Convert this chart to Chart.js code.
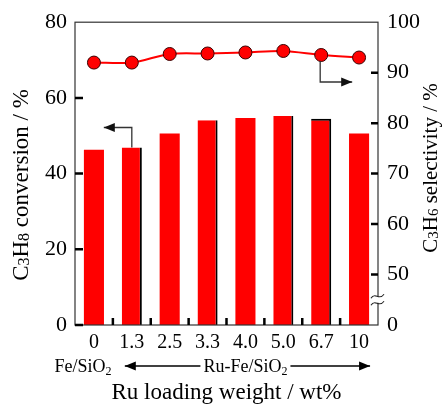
<!DOCTYPE html>
<html>
<head>
<meta charset="utf-8">
<script src="https://cdn.jsdelivr.net/npm/chart.js@4"></script>
<style>
  body { margin: 0; background: #fff; }
  #wrap { width: 444px; height: 405px; }
</style>
</head>
<body>
<div id="wrap"><canvas id="chart"></canvas></div>
<script>
// values
const loadings = ["0", "1.3", "2.5", "3.3", "4.0", "5.0", "6.7", "10"];
const conversion = [46.3, 46.9, 50.6, 54.1, 54.7, 55.2, 54.5, 50.6];
const selectivity = [92.0, 92.0, 93.7, 93.8, 94.0, 94.3, 93.5, 93.0];
const convTicks = [0, 20, 40, 60, 80];
const selTicks = [40, 50, 60, 70, 80, 90, 100];
const selTickLabels = ["0", "50", "60", "70", "80", "90", "100"];

const red = "#ff0000";
const ink = "#222";
const serif = "'Liberation Serif', 'Times New Roman', 'DejaVu Serif', serif";

// bars with a dark edge in the original scan
const darkEdge = { 1: { right: 2 }, 3: { right: 2 }, 5: { right: 2 }, 6: { right: 2, top: 2 } };

function arrow(ctx, pts) {
  ctx.beginPath();
  ctx.moveTo(pts[0][0], pts[0][1]);
  pts.slice(1).forEach(p => ctx.lineTo(p[0], p[1]));
  ctx.stroke();
  const [x1, y1] = pts[pts.length - 2];
  const [x2, y2] = pts[pts.length - 1];
  const ang = Math.atan2(y2 - y1, x2 - x1);
  ctx.save();
  ctx.translate(x2, y2);
  ctx.rotate(ang);
  ctx.beginPath();
  ctx.moveTo(0, 0);
  ctx.lineTo(-11, -4.5);
  ctx.lineTo(-11, 4.5);
  ctx.closePath();
  ctx.fill();
  ctx.restore();
}

// draws [text, isSub] runs centred on (cx, baseline); returns half width
function rich(ctx, parts, size, subSize, drop, cx, base) {
  const fonts = parts.map(p => (p[1] ? subSize : size) + "px " + serif);
  const widths = parts.map((p, i) => { ctx.font = fonts[i]; return ctx.measureText(p[0]).width; });
  const total = widths.reduce((s, w) => s + w, 0);
  let xx = cx - total / 2;
  ctx.textAlign = "left";
  ctx.textBaseline = "alphabetic";
  parts.forEach((p, i) => {
    ctx.font = fonts[i];
    ctx.fillText(p[0], xx, base + (p[1] ? drop : 0));
    xx += widths[i];
  });
  return total / 2;
}

const decor = {
  id: "decor",
  afterDatasetsDraw(chart) {
    const { ctx, chartArea: a, scales } = chart;
    const x = scales.x, y = scales.y, y2 = scales.y2;
    ctx.save();

    // frame
    ctx.strokeStyle = "#333";
    ctx.lineWidth = 1.2;
    ctx.strokeRect(a.left, a.top, a.right - a.left, a.bottom - a.top);

    // inward ticks
    ctx.strokeStyle = "#000";
    ctx.lineWidth = 2.5;
    ctx.beginPath();
    convTicks.slice(0, -1).forEach(v => {
      const py = y.getPixelForValue(v);
      ctx.moveTo(a.left, py); ctx.lineTo(a.left + 8, py);
    });
    selTicks.slice(1, -1).forEach(v => {
      const py = y2.getPixelForValue(v);
      ctx.moveTo(a.right, py); ctx.lineTo(a.right - 7, py);
    });
    for (let i = 0; i < loadings.length - 1; i++) {
      const px = (x.getPixelForValue(i) + x.getPixelForValue(i + 1)) / 2;
      ctx.moveTo(px, a.bottom); ctx.lineTo(px, a.bottom - 7);
    }
    ctx.stroke();

    // axis break on the right axis
    const by = y2.getPixelForValue(45);
    ctx.fillStyle = "#fff";
    ctx.fillRect(a.right - 2, by - 3, 4, 6);
    ctx.strokeStyle = ink;
    ctx.lineWidth = 1.2;
    [-3.5, 3.5].forEach(d => {
      const c = by + d;
      ctx.beginPath();
      ctx.moveTo(a.right - 7, c + 2);
      ctx.bezierCurveTo(a.right - 3, c - 5, a.right + 1, c + 5, a.right + 6, c - 2);
      ctx.stroke();
    });

    // pointer arrows
    ctx.strokeStyle = "#333";
    ctx.fillStyle = "#111";
    ctx.lineWidth = 1.3;
    const bx = x.getPixelForValue(1);
    const bt = y.getPixelForValue(conversion[1]);
    arrow(ctx, [[bx, bt], [bx, bt - 20], [bx - 28, bt - 20]]);
    const px = x.getPixelForValue(6) - 1;
    const pt = y2.getPixelForValue(selectivity[6]);
    arrow(ctx, [[px, pt + 6], [px, pt + 27], [px + 32, pt + 27]]);

    // catalyst labels under the ticks
    const rowY = a.bottom + 41;
    ctx.fillStyle = "#000";
    rich(ctx, [["Fe/SiO", 0], ["2", 1]], 18, 12, 3, x.getPixelForValue(0) - 11, rowY + 6);
    const mid = (x.getPixelForValue(1) + x.getPixelForValue(7)) / 2;
    const half = rich(ctx, [["Ru-Fe/SiO", 0], ["2", 1]], 18, 12, 3, mid, rowY + 6);
    ctx.strokeStyle = "#000";
    ctx.fillStyle = "#000";
    ctx.lineWidth = 1.3;
    arrow(ctx, [[mid - half - 3, rowY], [x.getPixelForValue(1) - 7, rowY]]);
    arrow(ctx, [[mid + half + 3, rowY], [x.getPixelForValue(7) + 11, rowY]]);

    // axis titles, both reading bottom to top
    ctx.save();
    ctx.translate(28, 185);
    ctx.rotate(-Math.PI / 2);
    rich(ctx, [["C", 0], ["3", 1], ["H", 0], ["8", 1], [" conversion / %", 0]], 23, 16, 1, 0, 0);
    ctx.restore();
    ctx.save();
    ctx.translate(437, 168);
    ctx.rotate(-Math.PI / 2);
    rich(ctx, [["C", 0], ["3", 1], ["H", 0], ["6", 1], [" selectivity / %", 0]], 21, 15, 1, 0, 0);
    ctx.restore();

    ctx.restore();
  }
};

function draw() {
  new Chart(document.getElementById("chart"), {
    data: {
      labels: loadings,
      datasets: [
        {
          type: "line",
          data: selectivity,
          yAxisID: "y2",
          borderColor: red,
          borderWidth: 2,
          tension: 0.3,
          pointRadius: 6.5,
          pointBackgroundColor: red,
          pointBorderColor: "#3a0000",
          pointBorderWidth: 1,
          order: 0
        },
        {
          type: "bar",
          data: conversion,
          yAxisID: "y",
          backgroundColor: red,
          borderColor: "#000",
          borderWidth: c => darkEdge[c.dataIndex] || 0,
          borderSkipped: false,
          barPercentage: 0.53,
          categoryPercentage: 1,
          order: 1
        }
      ]
    },
    options: {
      responsive: true,
      maintainAspectRatio: false,
      animation: false,
      layout: { padding: { top: 22, left: 0, right: 0, bottom: 0 } },
      plugins: { legend: { display: false }, tooltip: { enabled: false } },
      scales: {
        x: {
          type: "category",
          offset: true,
          grid: { display: false, drawTicks: false },
          border: { display: false },
          ticks: { color: "#000", font: { family: serif, size: 20 }, padding: 6, maxRotation: 0, autoSkip: false },
          title: { display: true, text: "Ru loading weight / wt%", color: "#000", font: { family: serif, size: 23 }, padding: { top: 0, bottom: -2 } },
          afterFit: s => { s.height = 80; }
        },
        y: {
          position: "left",
          min: 0,
          max: 80,
          afterBuildTicks: s => { s.ticks = convTicks.map(v => ({ value: v })); },
          grid: { display: false, drawTicks: false },
          border: { display: false },
          ticks: { color: "#000", font: { family: serif, size: 22 }, padding: 8 },
          afterFit: s => { s.width = 75; }
        },
        y2: {
          position: "right",
          min: 40,
          max: 100,
          afterBuildTicks: s => { s.ticks = selTicks.map(v => ({ value: v })); },
          grid: { display: false, drawTicks: false },
          border: { display: false },
          ticks: { color: "#000", font: { family: serif, size: 22 }, padding: 9, callback: (v, i) => selTickLabels[i] },
          afterFit: s => { s.width = 66; }
        }
      }
    },
    plugins: [decor]
  });
}

// make sure the serif face is ready before the canvas text is drawn
Promise.all([
  document.fonts.load("20px 'Liberation Serif'"),
  document.fonts.load("20px 'DejaVu Serif'")
]).then(draw, draw);
</script>
</body>
</html>
